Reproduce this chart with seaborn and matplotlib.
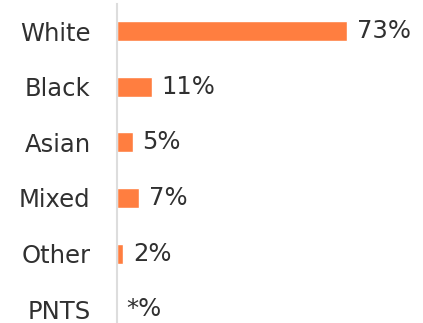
import matplotlib
matplotlib.use("Agg")
import matplotlib.pyplot as plt
import seaborn as sns
import pandas as pd

categories = ["White", "Black", "Asian", "Mixed", "Other", "PNTS"]
values = [73, 11, 5, 7, 2, 0]
value_labels = ["73%", "11%", "5%", "7%", "2%", "*%"]

sns.set_style("white")
plt.rcParams["font.family"] = ["DejaVu Sans"]

df = pd.DataFrame({"group": categories, "pct": values})

fig = plt.figure(figsize=(4.23, 3.23), dpi=100)
ax = fig.add_axes([117 / 423, 0, 306 / 423, 319 / 323])

sns.barplot(data=df, y="group", x="pct", orient="h", color="#FF7E40",
            saturation=1, width=0.36, ax=ax)

for patch, lab in zip(ax.patches, value_labels):
    y = patch.get_y() + patch.get_height() / 2
    ax.annotate(lab, (patch.get_width(), y), xytext=(7, 0),
                textcoords="offset points", va="center", ha="left",
                fontsize=17.5, color="#303030")

ax.set_xlim(0, 97)
ax.set_ylim(5.25, -0.49)
ax.set_xlabel("")
ax.set_ylabel("")
ax.set_xticks([])
ax.tick_params(axis="y", length=0, pad=19, labelsize=17.5, labelcolor="#303030")
for s in ["top", "right", "bottom"]:
    ax.spines[s].set_visible(False)
ax.spines["left"].set_color("#dddddd")
ax.spines["left"].set_linewidth(1.5)

fig.savefig("out.png", dpi=100)
